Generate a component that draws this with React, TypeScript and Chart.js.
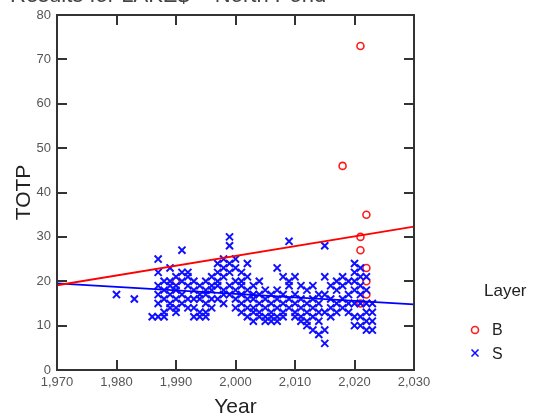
import React, { useEffect, useRef } from "react";
import { Chart, registerables } from "chart.js";

Chart.register(...registerables);

const TITLE = "Results for LAKE$ = North Pond";
const X_LABEL = "Year";
const Y_LABEL = "TOTP";
const LEGEND_TITLE = "Layer";
const X_MIN = 1970;
const X_MAX = 2030;
const Y_MIN = 0;
const Y_MAX = 80;
const X_STEP = 10;
const Y_STEP = 10;

const B_POINTS: [number, number][] = [
  [1990, 20],
  [2018, 46],
  [2021, 73],
  [2021, 30],
  [2021, 27],
  [2021, 15],
  [2022, 35],
  [2022, 23],
  [2022, 20],
  [2022, 17],
];

const S_POINTS: [number, number][] = [
  [1980, 17], [1983, 16], [1986, 12],
  [1987, 25], [1987, 22], [1987, 19], [1987, 17], [1987, 15], [1987, 12],
  [1988, 20], [1988, 18], [1988, 16], [1988, 13], [1988, 12],
  [1989, 23], [1989, 19], [1989, 17], [1989, 15], [1989, 14], [1989, 20],
  [1990, 21], [1990, 18], [1990, 16], [1990, 14], [1990, 13], [1990, 19],
  [1991, 27], [1991, 20], [1991, 17], [1991, 15], [1991, 22],
  [1992, 22], [1992, 19], [1992, 16], [1992, 14], [1992, 21],
  [1993, 18], [1993, 16], [1993, 14], [1993, 12], [1993, 20],
  [1994, 19], [1994, 16], [1994, 13], [1994, 12], [1994, 17],
  [1995, 20], [1995, 17], [1995, 15], [1995, 13], [1995, 18], [1995, 12],
  [1996, 21], [1996, 18], [1996, 16], [1996, 14], [1996, 19],
  [1997, 24], [1997, 22], [1997, 19], [1997, 16], [1997, 20],
  [1998, 23], [1998, 21], [1998, 18], [1998, 15], [1998, 25], [1998, 17],
  [1999, 30], [1999, 28], [1999, 24], [1999, 22], [1999, 19], [1999, 17],
  [2000, 25], [2000, 23], [2000, 20], [2000, 18], [2000, 16], [2000, 14],
  [2001, 22], [2001, 19], [2001, 17], [2001, 15], [2001, 13], [2001, 20],
  [2002, 24], [2002, 18], [2002, 16], [2002, 14], [2002, 12], [2002, 21],
  [2003, 19], [2003, 16], [2003, 14], [2003, 11], [2003, 17], [2003, 13],
  [2004, 20], [2004, 17], [2004, 15], [2004, 13], [2004, 12],
  [2005, 18], [2005, 16], [2005, 14], [2005, 12], [2005, 11],
  [2006, 17], [2006, 15], [2006, 13], [2006, 12], [2006, 11],
  [2007, 23], [2007, 16], [2007, 14], [2007, 12], [2007, 11], [2007, 18],
  [2008, 21], [2008, 17], [2008, 15], [2008, 13], [2008, 12],
  [2009, 29], [2009, 19], [2009, 16], [2009, 14], [2009, 20],
  [2010, 21], [2010, 17], [2010, 15], [2010, 13], [2010, 12],
  [2011, 19], [2011, 16], [2011, 14], [2011, 12], [2011, 11],
  [2012, 18], [2012, 15], [2012, 13], [2012, 11], [2012, 10],
  [2013, 19], [2013, 16], [2013, 14], [2013, 12], [2013, 9],
  [2014, 17], [2014, 15], [2014, 13], [2014, 11], [2014, 8],
  [2015, 28], [2015, 21], [2015, 17], [2015, 13], [2015, 9], [2015, 6],
  [2016, 19], [2016, 16], [2016, 14], [2016, 12],
  [2017, 20], [2017, 18], [2017, 15], [2017, 13],
  [2018, 21], [2018, 19], [2018, 16], [2018, 14],
  [2019, 20], [2019, 17], [2019, 15], [2019, 13],
  [2020, 24], [2020, 22], [2020, 20], [2020, 18], [2020, 15], [2020, 12], [2020, 10],
  [2021, 23], [2021, 21], [2021, 19], [2021, 17], [2021, 15], [2021, 12], [2021, 10],
  [2022, 21], [2022, 18], [2022, 15], [2022, 13], [2022, 11], [2022, 9],
  [2023, 15], [2023, 13], [2023, 11], [2023, 9],
];

const B_FIT: [number, number][] = [
  [1970, 19.1],
  [2030, 32.3],
];
const S_FIT: [number, number][] = [
  [1970, 19.5],
  [2030, 14.8],
];

const RED = "#ff1a1a";
const BLUE = "#1010ff";
const FONT = "Arial, 'Liberation Sans', sans-serif";
const OFF = 14;

const toXY = (pts: [number, number][]) => pts.map(([x, y]) => ({ x, y }));

const framePlugin = {
  id: "frame",
  afterDatasetsDraw(chart: any) {
    const { ctx, chartArea: a, scales } = chart;
    ctx.save();
    ctx.strokeStyle = "#333";
    ctx.lineWidth = 2;
    ctx.strokeRect(a.left, a.top, a.right - a.left, a.bottom - a.top);
    const L = 10;
    ctx.beginPath();
    scales.x.ticks.forEach((t: any) => {
      const px = Math.round(scales.x.getPixelForValue(t.value));
      if (px <= a.left + 1 || px >= a.right - 1) return;
      ctx.moveTo(px, a.bottom);
      ctx.lineTo(px, a.bottom - L);
      ctx.moveTo(px, a.top);
      ctx.lineTo(px, a.top + L);
    });
    scales.y.ticks.forEach((t: any) => {
      const py = Math.round(scales.y.getPixelForValue(t.value));
      if (py <= a.top + 1 || py >= a.bottom - 1) return;
      ctx.moveTo(a.left, py);
      ctx.lineTo(a.left + L, py);
      ctx.moveTo(a.right, py);
      ctx.lineTo(a.right - L, py);
    });
    ctx.stroke();
    ctx.restore();
  },
  afterDraw(chart: any) {
    const { ctx } = chart;
    ctx.save();
    // title (mostly cut off at the top of the picture)
    ctx.fillStyle = "#444";
    ctx.font = `22px ${FONT}`;
    ctx.textBaseline = "alphabetic";
    ctx.textAlign = "left";
    ctx.fillText(TITLE, 10, OFF + 2);
    // legend
    ctx.fillStyle = "#222";
    ctx.font = `17px ${FONT}`;
    ctx.textBaseline = "middle";
    ctx.fillText(LEGEND_TITLE, 484, OFF + 291);
    const dsB = chart.data.datasets[0];
    const dsS = chart.data.datasets[1];
    ctx.strokeStyle = dsB.borderColor;
    ctx.lineWidth = 1.6;
    ctx.beginPath();
    ctx.arc(475, OFF + 330, 3.5, 0, Math.PI * 2);
    ctx.stroke();
    ctx.strokeStyle = dsS.borderColor;
    ctx.beginPath();
    ctx.moveTo(471.5, OFF + 349.5);
    ctx.lineTo(478.5, OFF + 356.5);
    ctx.moveTo(478.5, OFF + 349.5);
    ctx.lineTo(471.5, OFF + 356.5);
    ctx.stroke();
    ctx.fillStyle = "#222";
    ctx.font = `16px ${FONT}`;
    ctx.fillText(dsB.label, 492, OFF + 331);
    ctx.fillText(dsS.label, 492, OFF + 355);
    ctx.restore();
  },
};

export default function App() {
  const ref = useRef<HTMLCanvasElement>(null);
  useEffect(() => {
    if (!ref.current) return;
    const chart = new Chart(ref.current, {
      type: "scatter",
      data: {
        datasets: [
          {
            label: "B",
            data: toXY(B_POINTS),
            order: 3,
            pointStyle: "circle",
            pointRadius: 3.5,
            borderColor: RED,
            backgroundColor: "transparent",
            pointBorderWidth: 1.6,
            showLine: false,
          },
          {
            label: "S",
            data: toXY(S_POINTS),
            order: 2,
            pointStyle: "crossRot",
            pointRadius: 5,
            borderColor: BLUE,
            backgroundColor: BLUE,
            pointBorderWidth: 2,
            showLine: false,
          },
          {
            label: "B fit",
            type: "line",
            data: toXY(B_FIT),
            order: 1,
            borderColor: "#ff0000",
            borderWidth: 1.8,
            pointRadius: 0,
            fill: false,
          },
          {
            label: "S fit",
            type: "line",
            data: toXY(S_FIT),
            order: 1,
            borderColor: "#0000ff",
            borderWidth: 1.8,
            pointRadius: 0,
            fill: false,
          },
        ],
      } as any,
      options: {
        animation: false,
        responsive: false,
        maintainAspectRatio: false,
        layout: { padding: { left: 10, right: 126, top: OFF + 15, bottom: 0 } },
        plugins: {
          legend: { display: false },
          title: { display: false },
          tooltip: { enabled: false },
        },
        scales: {
          x: {
            type: "linear",
            min: X_MIN,
            max: X_MAX,
            grid: { display: false, drawTicks: false },
            border: { display: false },
            ticks: {
              stepSize: X_STEP,
              padding: 5,
              color: "#555",
              font: { family: FONT, size: 13 },
              callback: (v: any) => Number(v).toLocaleString("en-US"),
            },
            title: {
              display: true,
              text: X_LABEL,
              color: "#222",
              font: { family: FONT, size: 21 },
              padding: { top: 0, bottom: 0 },
            },
            afterFit: (s: any) => {
              s.height = 50;
            },
          },
          y: {
            type: "linear",
            min: Y_MIN,
            max: Y_MAX,
            grid: { display: false, drawTicks: false },
            border: { display: false },
            ticks: {
              stepSize: Y_STEP,
              padding: 6,
              color: "#555",
              font: { family: FONT, size: 13 },
            },
            title: {
              display: true,
              text: Y_LABEL,
              color: "#222",
              font: { family: FONT, size: 21 },
              padding: { top: 2, bottom: 0 },
            },
            afterFit: (s: any) => {
              s.width = 47;
            },
          },
        },
      },
      plugins: [framePlugin],
    });
    return () => chart.destroy();
  }, []);
  return (
    <div style={{ position: "fixed", left: 0, top: -OFF, width: 540, height: 420 + OFF, background: "#fff" }}>
      <canvas ref={ref} width={540} height={420 + OFF} />
    </div>
  );
}
